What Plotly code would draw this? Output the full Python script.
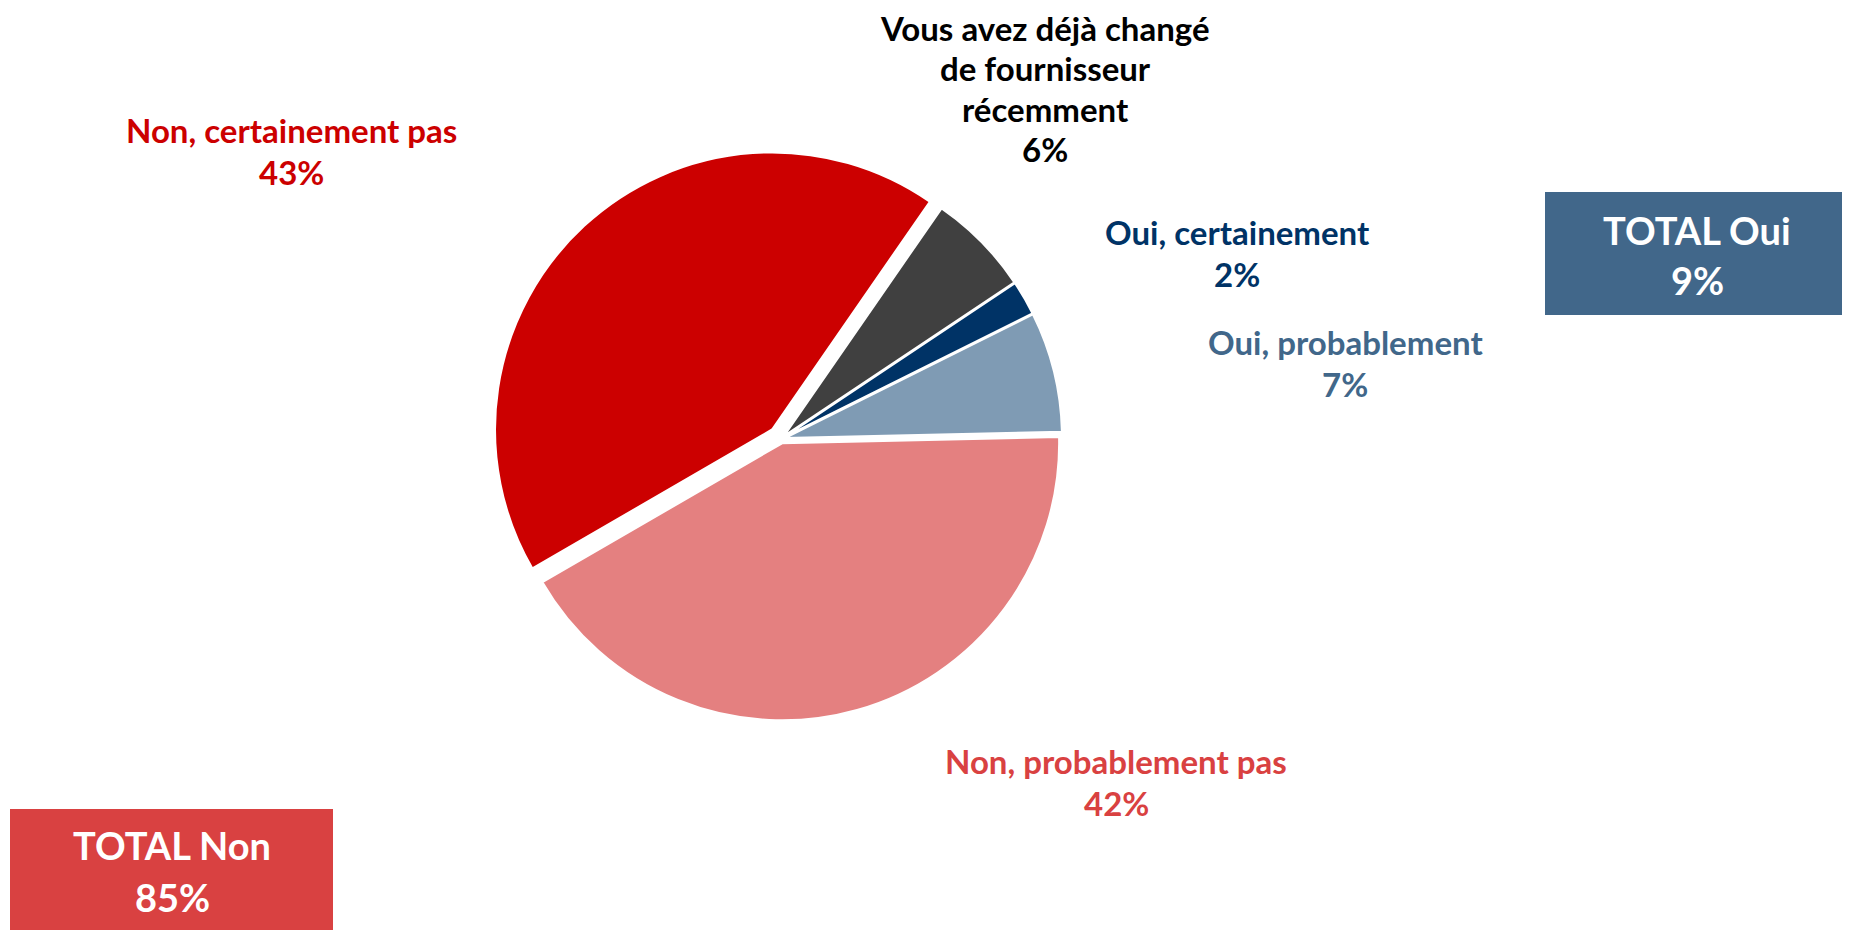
import plotly.graph_objects as go

# ---- data ----
categories = ["Oui, probablement", "Oui, certainement",
              "Vous avez déjà changé de fournisseur récemment",
              "Non, certainement pas", "Non, probablement pas"]
values = [7, 2, 6, 43, 42]
slice_colors = ["#7F9BB4", "#003366", "#404040", "#CC0000", "#E48080"]
label_colors = ["#41678A", "#003366", "#000000", "#CC0000", "#D94141"]
label_lines = [["Oui, probablement"], ["Oui, certainement"],
               ["Vous avez déjà changé", "de fournisseur", "récemment"],
               ["Non, certainement pas"], ["Non, probablement pas"]]
pulls = [0.015, 0.015, 0.015, 0.047, 0.016]

total_labels = ["TOTAL Oui", "TOTAL Non"]
total_values = [9, 85]
total_colors = ["#41678A", "#D94141"]

# page body has an 8px default margin: the figure is drawn from (8, 8)
OFF = 8
W, H = 1850 - OFF, 930 - OFF
FONT = "Lato"

fig = go.Figure()
fig.add_trace(go.Pie(
    labels=categories, values=values, sort=False,
    direction="counterclockwise", rotation=63.5,
    marker=dict(colors=slice_colors, line=dict(color="white", width=2)),
    pull=pulls, textinfo="none", showlegend=False, hoverinfo="label+percent",
    domain=dict(x=[0.2196, 0.6196], y=[0.2179, 0.8471]),
))

def px(x, y):
    return (x - OFF) / W, 1 - (y - OFF) / H

annotations = []
# label anchor (center x, y of first line, line spacing) in screen pixels
label_pos = [(1345, 342, 42), (1237, 232, 42), (1045, 28, 40.5), (291, 130, 42), (1116, 761, 42)]
for lines, val, col, (cx, cy, sp) in zip(label_lines, values, label_colors, label_pos):
    for i, t in enumerate(lines + [f"{val}%"]):
        x, y = px(cx, cy + i * sp)
        annotations.append(dict(x=x, y=y, xref="paper", yref="paper", text=f"<b>{t}</b>",
                                showarrow=False, xanchor="center", yanchor="middle",
                                font=dict(family=FONT, size=33, color=col)))

shapes = []
box_rects = [(1545, 192, 1860, 315), (10, 809, 333, 940)]
box_text = [(1697, 230, 280), (172, 845, 897)]
for lab, val, col, (x0, y0, x1, y1), (tx, ty1, ty2) in zip(total_labels, total_values, total_colors, box_rects, box_text):
    a0, b0 = px(x0, y0)
    a1, b1 = px(x1, y1)
    shapes.append(dict(type="rect", xref="paper", yref="paper", x0=a0, x1=a1, y0=b1, y1=b0,
                       fillcolor=col, line=dict(width=0), layer="below"))
    for t, ty in ((lab, ty1), (f"{val}%", ty2)):
        x, y = px(tx, ty)
        annotations.append(dict(x=x, y=y, xref="paper", yref="paper", text=f"<b>{t}</b>",
                                showarrow=False, xanchor="center", yanchor="middle",
                                font=dict(family=FONT, size=38, color="white")))

fig.update_layout(width=W, height=H, margin=dict(l=0, r=0, t=0, b=0),
                  paper_bgcolor="white", plot_bgcolor="white",
                  annotations=annotations, shapes=shapes)
fig.write_html("out.html")
